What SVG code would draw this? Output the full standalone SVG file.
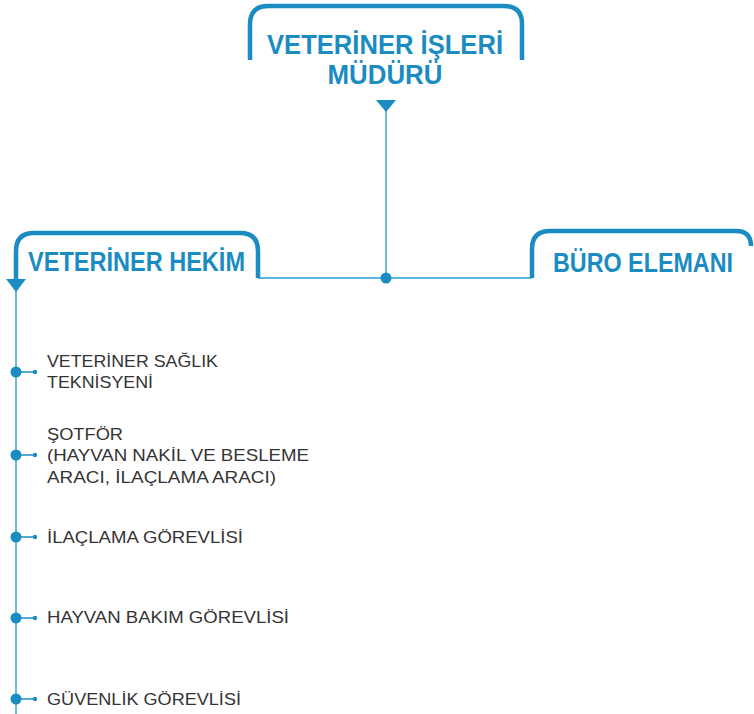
<svg xmlns="http://www.w3.org/2000/svg" width="754" height="714" viewBox="0 0 754 714">
<style>
.frame{fill:none;stroke:#1a8cc2;stroke-width:4.5;stroke-linecap:butt}
.thin{fill:none;stroke:#5db4dc;stroke-width:1.8}
.head{font-family:"Liberation Sans",Arial,sans-serif;font-weight:bold;fill:#1a8cc2;font-size:27px}
.item{font-family:"Liberation Sans",Arial,sans-serif;fill:#333333;font-size:16.5px}
.dot{fill:#1a8cc2}
</style>
<defs>
<g id="bullet">
<line x1="0" y1="0" x2="19" y2="0" stroke="#1a8cc2" stroke-width="1.5"/>
<circle cx="0" cy="0" r="5.5" class="dot"/>
<circle cx="19" cy="0" r="2.2" class="dot"/>
</g>
</defs>
<rect width="754" height="714" fill="#ffffff"/>
<g id="connectors">
<line x1="386" y1="110" x2="386" y2="278" class="thin"/>
<line x1="258" y1="278" x2="532" y2="278" class="thin"/>
<circle cx="386" cy="278" r="5.5" class="dot"/>
<line x1="16" y1="290" x2="16" y2="714" class="thin"/>
<polygon points="376,100 396,100 386,112" class="dot"/>
<polygon points="6,279 26,279 16,292" class="dot"/>
</g>
<g id="mudur">
<path class="frame" d="M250,60 V24 Q250,6 268,6 H504 Q522,6 522,24 V60"/>
<text class="head" x="385" y="54" text-anchor="middle" textLength="236" lengthAdjust="spacingAndGlyphs">VETERİNER İŞLERİ</text>
<text class="head" x="385" y="84" text-anchor="middle" textLength="115" lengthAdjust="spacingAndGlyphs">MÜDÜRÜ</text>
</g>
<g id="hekim">
<path class="frame" d="M16,279 V251 Q16,233 34,233 H240 Q258,233 258,251 V278"/>
<text class="head" x="28" y="271" textLength="217" lengthAdjust="spacingAndGlyphs">VETERİNER HEKİM</text>
</g>
<g id="buro">
<path class="frame" d="M532,278 V249 Q532,231 550,231 H736 Q751,231 751,246"/>
<text class="head" x="553" y="272" textLength="180" lengthAdjust="spacingAndGlyphs">BÜRO ELEMANI</text>
</g>
<g id="item1">
<use href="#bullet" x="16" y="372"/>
<text class="item" x="47" y="367" textLength="171" lengthAdjust="spacingAndGlyphs">VETERİNER SAĞLIK</text>
<text class="item" x="47" y="388" textLength="106" lengthAdjust="spacingAndGlyphs">TEKNİSYENİ</text>
</g>
<g id="item2">
<use href="#bullet" x="16" y="455"/>
<text class="item" x="47" y="440" textLength="76" lengthAdjust="spacingAndGlyphs">ŞOTFÖR</text>
<text class="item" x="47" y="461" textLength="262" lengthAdjust="spacingAndGlyphs">(HAYVAN NAKİL VE BESLEME</text>
<text class="item" x="47" y="483" textLength="229" lengthAdjust="spacingAndGlyphs">ARACI, İLAÇLAMA ARACI)</text>
</g>
<g id="item3">
<use href="#bullet" x="16" y="537"/>
<text class="item" x="47" y="543" textLength="196" lengthAdjust="spacingAndGlyphs">İLAÇLAMA GÖREVLİSİ</text>
</g>
<g id="item4">
<use href="#bullet" x="16" y="618"/>
<text class="item" x="47" y="623" textLength="242" lengthAdjust="spacingAndGlyphs">HAYVAN BAKIM GÖREVLİSİ</text>
</g>
<g id="item5">
<use href="#bullet" x="16" y="699"/>
<text class="item" x="47" y="705" textLength="194" lengthAdjust="spacingAndGlyphs">GÜVENLİK GÖREVLİSİ</text>
</g>
</svg>
